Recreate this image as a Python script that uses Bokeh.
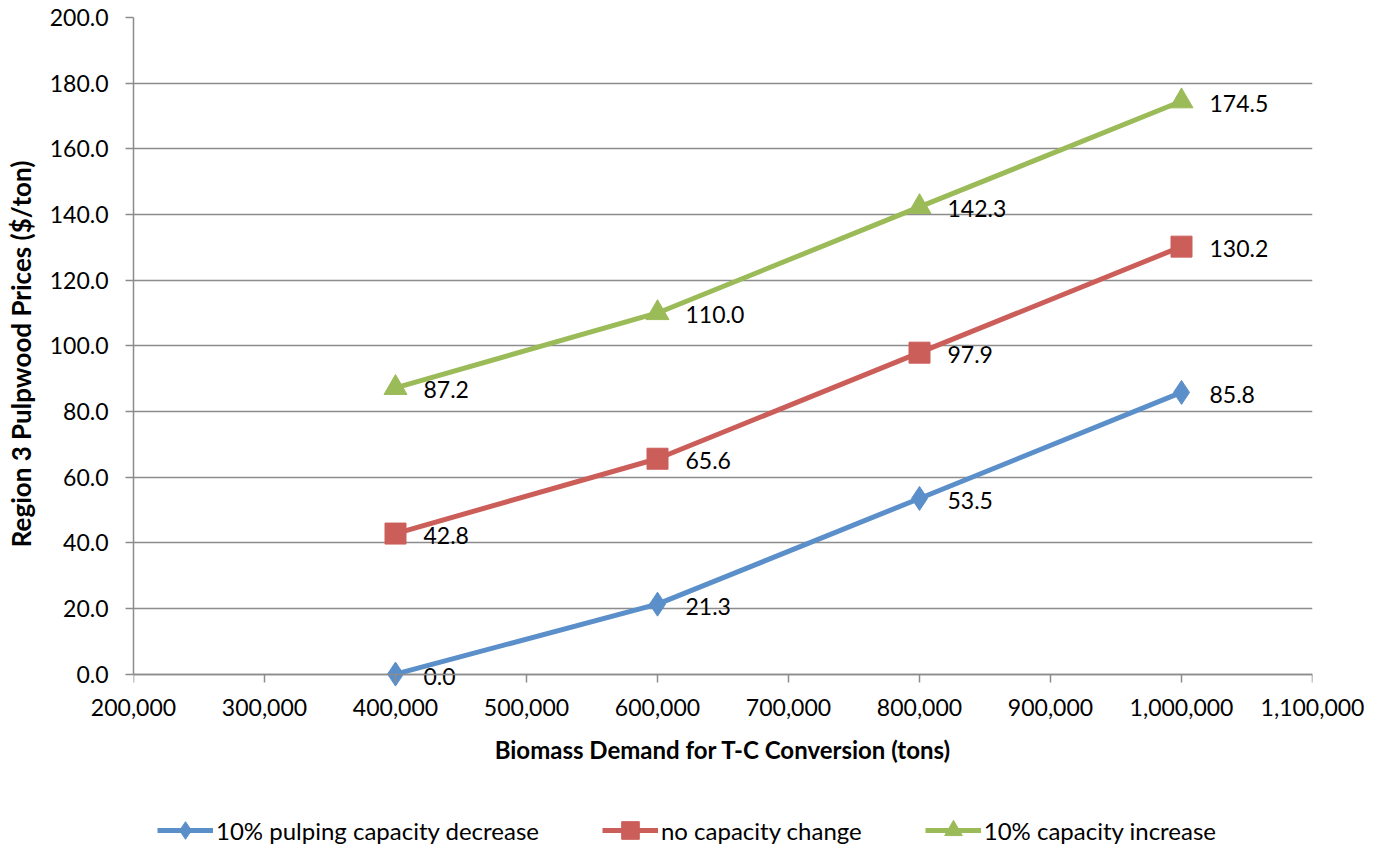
from bokeh.plotting import figure
from bokeh.layouts import column
from bokeh.models import (ColumnDataSource, Legend, LegendItem, NumeralTickFormatter, FixedTicker,
                          Range1d, LinearAxis)
from bokeh.embed import file_html
from bokeh.resources import INLINE
from bokeh.core.properties import value

demand = [400000, 600000, 800000, 1000000]
decrease = [0.0, 21.3, 53.5, 85.8]
nochange = [42.8, 65.6, 97.9, 130.2]
increase = [87.2, 110.0, 142.3, 174.5]
series_names = ["10% pulping capacity decrease", "no capacity change", "10% capacity increase"]
x_ticks = [200000, 300000, 400000, 500000, 600000, 700000, 800000, 900000, 1000000, 1100000]
y_ticks = [0, 20, 40, 60, 80, 100, 120, 140, 160, 180, 200]

FONT = "Lato"
GRID = "#8C8C8C"
W = 1376
H_MAIN, H_LEG = 786, 60

# y range reaches a little below 0 so the markers / labels at 0 are not clipped
p = figure(width=W, height=H_MAIN, output_backend="svg", toolbar_location=None,
           x_range=Range1d(200000, 1100000), y_range=Range1d(-5, 200),
           min_border_left=133, min_border_right=64, min_border_top=17, min_border_bottom=96)
p.outline_line_color = None
p.xgrid.grid_line_color = None
p.ygrid.ticker = FixedTicker(ticks=y_ticks)
p.ygrid.grid_line_color = GRID
p.ygrid.grid_line_width = 1.5

p.xaxis.ticker = FixedTicker(ticks=x_ticks)
p.yaxis.ticker = FixedTicker(ticks=y_ticks)
p.xaxis.formatter = NumeralTickFormatter(format="0,0")
p.yaxis.formatter = NumeralTickFormatter(format="0.0")
p.yaxis.bounds = (0, 200)
for ax in (p.xaxis, p.yaxis):
    ax.axis_line_color = GRID
    ax.axis_line_width = 1.5
    ax.major_tick_line_color = GRID
    ax.major_tick_line_width = 1.5
    ax.major_tick_out = 8
    ax.major_tick_in = 0
    ax.minor_tick_line_color = None
    ax.major_label_text_font = FONT
    ax.major_label_text_font_size = "23px"
    ax.major_label_text_color = "#000000"
    ax.axis_label_text_font = FONT
    ax.axis_label_text_font_style = "bold"
    ax.axis_label_text_color = "#000000"
# main x axis carries labels + title only
p.xaxis.axis_line_color = None
p.xaxis.major_tick_line_color = None
p.xaxis.major_tick_out = 0
p.xaxis.axis_label_text_font_size = "24px"
p.yaxis.axis_label_text_font_size = "26px"
p.xaxis.major_label_standoff = 8
p.yaxis.major_label_standoff = 17
p.xaxis.axis_label = "Biomass Demand for T-C Conversion (tons)"
p.yaxis.axis_label = "Region 3 Pulpwood Prices ($/ton)"
p.xaxis.axis_label_standoff = 16
p.yaxis.axis_label_standoff = 10

# second x axis fixed at y = 0: axis line and tick marks only (labels not drawn)
tick_axis = LinearAxis(ticker=FixedTicker(ticks=x_ticks), fixed_location=0,
                       axis_line_color=GRID, axis_line_width=1.5,
                       major_tick_line_color=GRID, major_tick_line_width=1.5,
                       major_tick_out=8, major_tick_in=0, minor_tick_line_color=None,
                       major_label_text_color=None, major_label_text_font_size="2px",
                       major_label_standoff=0)
p.add_layout(tick_axis, "below")

specs = [
    (decrease, "#5B8FCA", "diamond", 24),
    (nochange, "#CC5E5A", "square", 21),
    (increase, "#9BBB59", "triangle", 23),
]
for (vals, col, marker, size) in specs:
    src = ColumnDataSource(dict(x=demand, y=vals, lab=["%.1f" % v for v in vals]))
    p.line("x", "y", source=src, line_color=col, line_width=5)
    p.scatter("x", "y", source=src, marker=marker, size=size, fill_color=col, line_color=col)
    p.text("x", "y", text="lab", source=src, x_offset=28, y_offset=2,
           text_font=value(FONT), text_font_size="23px", text_baseline="middle",
           text_align="left", text_color="#000000")

# legend strip below the chart (its renderers lie outside its visible range)
q = figure(width=W, height=H_LEG, output_backend="svg", toolbar_location=None,
           x_axis_type=None, y_axis_type=None, x_range=Range1d(0, 1), y_range=Range1d(0, 1),
           min_border=0)
q.outline_line_color = None
items = []
for (vals, col, marker, size), name in zip(specs, series_names):
    l = q.line(x=demand, y=vals, line_color=col, line_width=5)
    s = q.scatter(x=demand, y=vals, marker=marker, size=size, fill_color=col, line_color=col)
    items.append(LegendItem(label=name, renderers=[l, s]))
legend = Legend(items=items, orientation="horizontal", location=(24, -6),
                glyph_width=56, glyph_height=44, label_standoff=3, spacing=63,
                padding=0, margin=0, border_line_color=None, background_fill_alpha=0,
                label_text_font=FONT, label_text_font_size="24px", label_text_color="#000000")
q.add_layout(legend)

open("out.html", "w").write(file_html(column(p, q, spacing=0), INLINE))
